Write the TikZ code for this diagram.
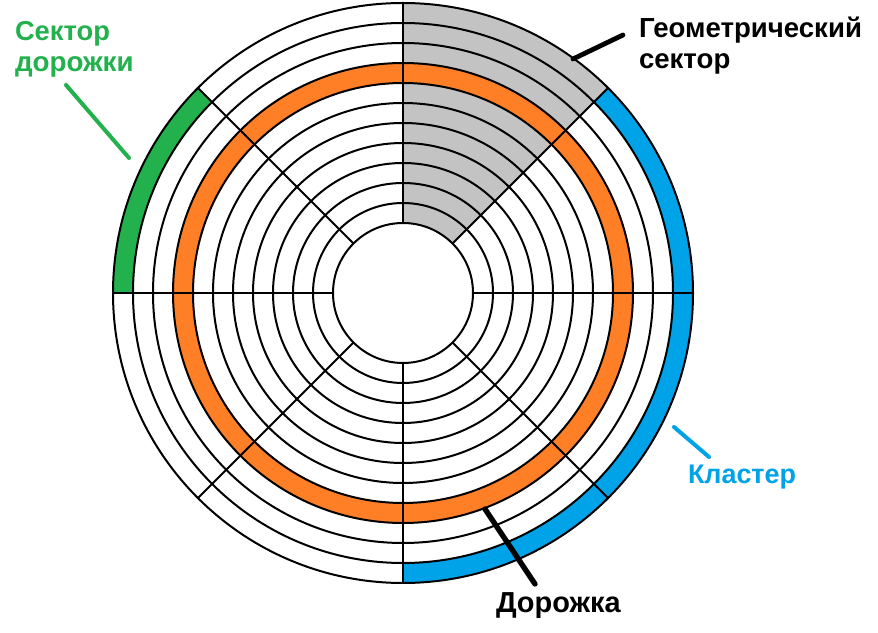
\documentclass[tikz,border=0pt]{standalone}
\usepackage{fontspec}
\setmainfont{Liberation Sans}
\definecolor{cOrange}{HTML}{FF7F27}
\definecolor{cBlue}{HTML}{00A2E8}
\definecolor{cGreen}{HTML}{22B14C}
\definecolor{cGray}{HTML}{C3C3C3}
\tikzset{
  ringline/.style={draw=black,line width=1.5pt},
  leader/.style={line cap=round,line width=#1},
  lab/.style={font=\fontsize{#1}{23pt}\selectfont\bfseries,anchor=base west,inner sep=0pt,outer sep=0pt},
}
\newcommand{\annsec}[5]{\fill[#1] (#2:#4) arc[start angle=#2,end angle=#3,radius=#4] -- (#3:#5) arc[start angle=#3,end angle=#2,radius=#5] -- cycle;}
\begin{document}
\begin{tikzpicture}[x=0.75pt,y=0.75pt]
\useasboundingbox (0,0) rectangle (878,632);
\fill[white] (0,0) rectangle (878,632);
\begin{scope}[shift={(403,339)}]
  \annsec{cGray}{45}{90}{70}{290}
  \annsec{cBlue}{-90}{45}{270}{290}
  \annsec{cGreen}{135}{180}{270}{290}
  \annsec{cOrange}{0}{360}{210}{230}
  \foreach \r in {70,90,...,290} \draw[ringline] (0,0) circle (\r);
  \foreach \a in {0,45,...,315} \draw[ringline] (\a:70) -- (\a:290);
\end{scope}
% labels
\node[lab=20.5pt,text=cGreen] (sec1) at (15,591) {Сектор};
\node[lab=20.8pt,text=cGreen] (sec2) at (15,560) {дорожки};
\node[lab=20.7pt,text=black] (geo1) at (639,594) {Геометрический};
\node[lab=20.7pt,text=black] (geo2) at (639,563) {сектор};
\node[lab=20.2pt,text=cBlue] (kl) at (688,148) {Кластер};
\node[lab=21.7pt,text=black] (dor) at (496,20) {Дорожка};
% leaders
\coordinate (gA) at (623,597); \coordinate (gB) at (573,573);
\coordinate (sA) at (66,547); \coordinate (sB) at (129,474);
\coordinate (kA) at (674,205); \coordinate (kB) at (709,175);
\coordinate (dA) at (485,123); \coordinate (dB) at (535,48);
\draw[leader=3.6pt] (gA) -- (gB);
\draw[leader=3pt,cGreen] (sA) -- (sB);
\draw[leader=3pt,cBlue] (kA) -- (kB);
\draw[leader=4pt] (dA) -- (dB);
\end{tikzpicture}
\end{document}
